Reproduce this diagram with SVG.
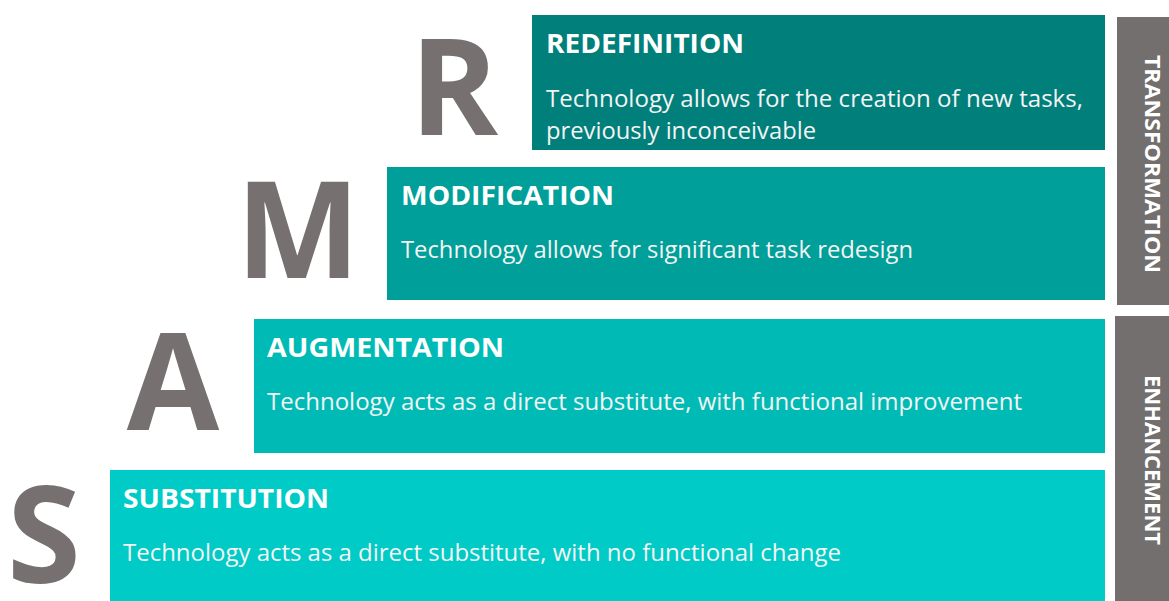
<svg xmlns="http://www.w3.org/2000/svg" width="1169" height="601" viewBox="0 0 1169 601">
<style>
.letter{font-family:"Open Sans","Noto Sans",sans-serif;font-weight:bold;font-size:134px;fill:#767170}
.title{font-family:"Open Sans","Noto Sans",sans-serif;font-weight:bold;font-size:27px;fill:#ffffff}
.body{font-family:"Open Sans","Noto Sans",sans-serif;font-size:23px;fill:#f4f4f4}
.side{font-family:"Open Sans","Noto Sans",sans-serif;font-weight:bold;font-size:21px;fill:#ffffff}
.bar{fill:#736f6e}
</style>
<rect width="1169" height="601" fill="#ffffff"/>
<g id="redefinition">
<text class="letter" x="454" y="135" text-anchor="middle">R</text>
<rect x="532" y="15" width="573" height="135" fill="#007f7b"/>
<text class="title" x="546" y="53" textLength="198" lengthAdjust="spacingAndGlyphs">REDEFINITION</text>
<text class="body" x="546" y="107" textLength="537" lengthAdjust="spacingAndGlyphs">Technology allows for the creation of new tasks,</text>
<text class="body" x="546" y="139" textLength="270" lengthAdjust="spacingAndGlyphs">previously inconceivable</text>
</g>
<g id="modification">
<text class="letter" x="298" y="278" text-anchor="middle" textLength="124" lengthAdjust="spacingAndGlyphs">M</text>
<rect x="387" y="167" width="718" height="133" fill="#009f99"/>
<text class="title" x="401" y="205" textLength="213" lengthAdjust="spacingAndGlyphs">MODIFICATION</text>
<text class="body" x="401" y="258" textLength="512" lengthAdjust="spacingAndGlyphs">Technology allows for significant task redesign</text>
</g>
<g id="augmentation">
<text class="letter" x="173" y="430" text-anchor="middle">A</text>
<rect x="254" y="319" width="851" height="134" fill="#00bbb5"/>
<text class="title" x="267" y="357" textLength="237" lengthAdjust="spacingAndGlyphs">AUGMENTATION</text>
<text class="body" x="267" y="410" textLength="755" lengthAdjust="spacingAndGlyphs">Technology acts as a direct substitute, with functional improvement</text>
</g>
<g id="substitution">
<text class="letter" x="44" y="583" text-anchor="middle">S</text>
<rect x="110" y="470" width="995" height="131" fill="#00cbc6"/>
<text class="title" x="123" y="508" textLength="206" lengthAdjust="spacingAndGlyphs">SUBSTITUTION</text>
<text class="body" x="123" y="561" textLength="718" lengthAdjust="spacingAndGlyphs">Technology acts as a direct substitute, with no functional change</text>
</g>
<g id="transformation">
<rect class="bar" x="1117" y="17" width="52" height="288"/>
<text class="side" transform="translate(1145,55) rotate(90)" textLength="218" lengthAdjust="spacingAndGlyphs">TRANSFORMATION</text>
</g>
<g id="enhancement">
<rect class="bar" x="1115" y="316" width="54" height="285"/>
<text class="side" transform="translate(1145,375) rotate(90)" textLength="170" lengthAdjust="spacingAndGlyphs">ENHANCEMENT</text>
</g>
<g id="connectors"></g>
</svg>
